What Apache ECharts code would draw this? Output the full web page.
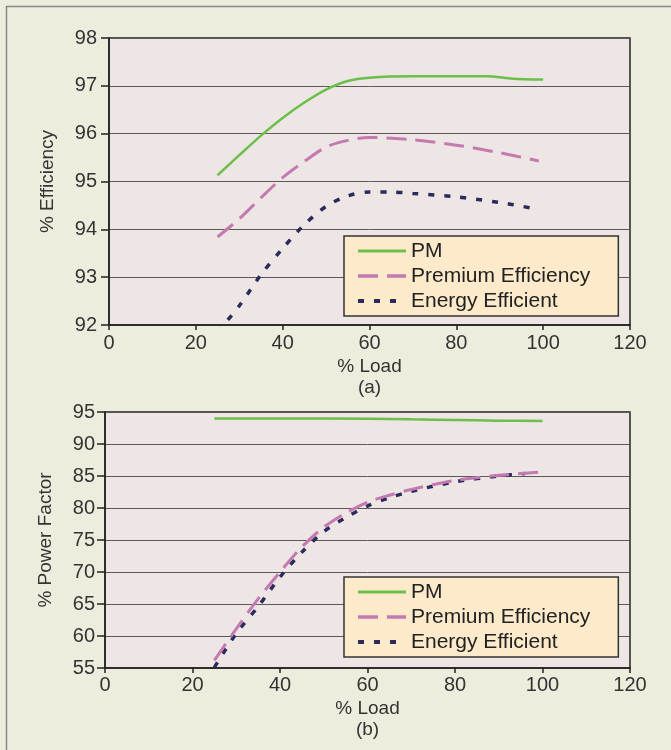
<!DOCTYPE html>
<html><head><meta charset="utf-8">
<script src="https://cdn.jsdelivr.net/npm/echarts@6/dist/echarts.min.js"></script>
<style>html,body{margin:0;padding:0;background:#EEEDDD}#c{width:671px;height:750px}</style>
</head><body><div id="c"></div><script>
const seriesNames = ['PM', 'Premium Efficiency', 'Energy Efficient'];
const xLoadTicks = [0, 20, 40, 60, 80, 100, 120];
const yEffTicks = [92, 93, 94, 95, 96, 97, 98];
const yPfTicks = [55, 60, 65, 70, 75, 80, 85, 90, 95];

// (a) % Efficiency vs % Load
const effLoadPM = [25, 30, 35, 40, 45, 50, 55, 60, 70, 80, 87, 93, 100];
const effPM     = [95.13, 95.55, 95.96, 96.33, 96.65, 96.92, 97.1, 97.17, 97.2, 97.2, 97.2, 97.15, 97.13];
const effLoadPE = [25, 30, 35, 40, 45, 50, 55, 60, 70, 80, 90, 99];
const effPE     = [93.84, 94.22, 94.66, 95.08, 95.42, 95.72, 95.86, 95.92, 95.87, 95.76, 95.6, 95.43];
const effLoadEE = [25, 30, 35, 40, 45, 50, 55, 60, 65, 70, 80, 90, 97];
const effEE     = [91.85, 92.4, 93.05, 93.6, 94.1, 94.48, 94.7, 94.78, 94.78, 94.75, 94.68, 94.56, 94.45];

// (b) % Power Factor vs % Load
const pfLoadPM = [25, 40, 60, 70, 80, 90, 100];
const pfPM     = [94.0, 94.0, 93.95, 93.85, 93.75, 93.65, 93.58];
const pfLoadPE = [25, 30, 35, 40, 45, 50, 55, 60, 65, 70, 80, 90, 99];
const pfPE     = [56.2, 61.1, 65.8, 70, 73.9, 77, 79.2, 80.9, 82, 82.9, 84.3, 85.1, 85.6];
const pfLoadEE = [25, 30, 35, 40, 45, 50, 55, 60, 65, 70, 80, 90, 96];
const pfEE     = [55.1, 60.4, 64.6, 69.2, 73.1, 76.3, 78.5, 80.3, 81.6, 82.6, 84.1, 85.0, 85.4];

const FONT = '"Liberation Sans", Arial, Helvetica, sans-serif';
const TXT = '#333';
const colors = ['#6CBF4A', '#C47AB0', '#2A2A5C'];
const lineStyles = [
  { width: 2.5, type: 'solid' },
  { width: 3, type: [20, 9] },
  { width: 3.5, type: [6, 10] }
];
const zip = (xs, ys) => xs.map((x, i) => [x, ys[i]]);

function mkX(gi, name, nameGap, margin) {
  return {
    type: 'value', gridIndex: gi,
    min: xLoadTicks[0], max: xLoadTicks[xLoadTicks.length - 1],
    interval: xLoadTicks[1] - xLoadTicks[0],
    name: name, nameLocation: 'middle', nameGap: nameGap,
    nameTextStyle: { fontFamily: FONT, fontSize: 19, color: TXT, lineHeight: 21 },
    axisLine: { show: true, onZero: false, lineStyle: { color: '#222', width: 1.5 } },
    axisTick: { show: true, inside: false, length: 5, lineStyle: { color: '#222', width: 1.5 } },
    axisLabel: { fontFamily: FONT, fontSize: 20, color: TXT, margin: margin },
    splitLine: { show: false }
  };
}
function mkY(gi, ticks, name, nameGap, margin) {
  return {
    type: 'value', gridIndex: gi,
    min: ticks[0], max: ticks[ticks.length - 1], interval: ticks[1] - ticks[0],
    name: name, nameLocation: 'middle', nameGap: nameGap,
    nameTextStyle: { fontFamily: FONT, fontSize: 19, color: TXT },
    axisLine: { show: true, onZero: false, lineStyle: { color: '#222', width: 1.5 } },
    axisTick: { show: true, inside: false, length: 8, lineStyle: { color: '#222', width: 1.5 } },
    axisLabel: { fontFamily: FONT, fontSize: 20, color: TXT, margin: margin },
    splitLine: { show: true, lineStyle: { color: '#5a5a5a', width: 1 } }
  };
}
function mkSeries(gi, idx, xs, ys) {
  return {
    type: 'line', name: seriesNames[idx], xAxisIndex: gi, yAxisIndex: gi,
    data: zip(xs, ys), smooth: 0.3, showSymbol: false, symbol: 'none', clip: true,
    color: colors[idx],
    lineStyle: Object.assign({ color: colors[idx] }, lineStyles[idx]),
    z: 3 - idx
  };
}
function mkLegend(left, top) {
  return {
    left: left, top: top, orient: 'vertical',
    data: seriesNames.map((n, i) => ({
      name: n,
      lineStyle: Object.assign({ color: colors[i] }, lineStyles[i], { width: lineStyles[i].width + 0.5 })
    })),
    backgroundColor: '#FCEACB', borderColor: '#333', borderWidth: 1.5,
    padding: [4, 28, 4, 12], itemGap: 3, itemWidth: 48, itemHeight: 14,
    itemStyle: { opacity: 0 },
    textStyle: { fontFamily: FONT, fontSize: 21, color: '#222', lineHeight: 22 },
    selectedMode: false
  };
}

const chart = echarts.init(document.getElementById('c'), null, { renderer: 'canvas' });
chart.setOption({
  backgroundColor: '#EEEDDD',
  animation: false,
  grid: [
    { left: 109, top: 38, width: 521, height: 287, show: true, backgroundColor: '#EEE6E4', borderColor: '#222', borderWidth: 1.5 },
    { left: 105, top: 412, width: 525, height: 256, show: true, backgroundColor: '#EEE6E4', borderColor: '#222', borderWidth: 1.5 }
  ],
  xAxis: [ mkX(0, '% Load\n(a)', 31, 8), mkX(1, '% Load\n(b)', 30, 7) ],
  yAxis: [ mkY(0, yEffTicks, '% Efficiency', 52, 12), mkY(1, yPfTicks, '% Power Factor', 50, 10) ],
  legend: [ mkLegend(344, 236), mkLegend(344, 577) ],
  graphic: [
    { type: 'rect', left: 4, top: 4, shape: { x: 0, y: 0, width: 700, height: 800 },
      style: { fill: 'none', stroke: '#888', lineWidth: 1.5 }, silent: true, z: 100 }
  ],
  series: [
    mkSeries(0, 0, effLoadPM, effPM),
    mkSeries(0, 1, effLoadPE, effPE),
    mkSeries(0, 2, effLoadEE, effEE),
    mkSeries(1, 0, pfLoadPM, pfPM),
    mkSeries(1, 1, pfLoadPE, pfPE),
    mkSeries(1, 2, pfLoadEE, pfEE)
  ]
});
</script></body></html>
